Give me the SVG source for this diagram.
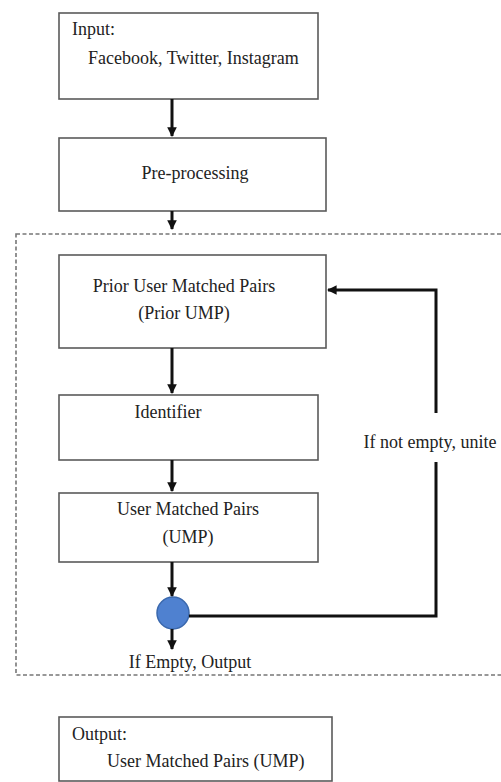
<svg xmlns="http://www.w3.org/2000/svg" width="501" height="782" viewBox="0 0 501 782">
<defs>
<style>
.box{fill:#fff;stroke:#5a5a5a;stroke-width:1.6}
.t{font-family:"Liberation Serif","Times New Roman",serif;font-size:18px;fill:#222}
.c{text-anchor:middle}
.con{fill:none;stroke:#111;stroke-width:3}
.dash{fill:none;stroke:#777;stroke-width:1.6;stroke-dasharray:4 2.5}
</style>
<marker id="ah" viewBox="0 0 10 10" refX="9" refY="5" markerWidth="3.2" markerHeight="3.2" orient="auto" markerUnits="strokeWidth">
<path d="M0,0 L10,5 L0,10 z" fill="#111"/>
</marker>
</defs>
<rect width="501" height="782" fill="#fff"/>
<rect id="loop-frame" class="dash" x="16" y="234" width="500" height="441"/>
<g id="input">
<rect class="box" x="59" y="13" width="259" height="86"/>
<text class="t" x="72" y="35">Input:</text>
<text class="t" x="88" y="64">Facebook, Twitter, Instagram</text>
</g>
<g id="preprocessing">
<rect class="box" x="59" y="138" width="267" height="73"/>
<text class="t c" x="195" y="179">Pre-processing</text>
</g>
<g id="prior-ump">
<rect class="box" x="59" y="255" width="267" height="93"/>
<text class="t c" x="184" y="292">Prior User Matched Pairs</text>
<text class="t c" x="184" y="319">(Prior UMP)</text>
</g>
<g id="identifier">
<rect class="box" x="59" y="395" width="259" height="65"/>
<text class="t c" x="168" y="418">Identifier</text>
</g>
<g id="ump">
<rect class="box" x="59" y="493" width="259" height="69"/>
<text class="t c" x="188" y="515">User Matched Pairs</text>
<text class="t c" x="188" y="543">(UMP)</text>
</g>
<g id="decision">
<circle cx="173" cy="613" r="16" fill="#4f81d0" stroke="#3a68ad" stroke-width="1.5"/>
</g>
<g id="output">
<rect class="box" x="59" y="717" width="273" height="64"/>
<text class="t" x="72" y="740">Output:</text>
<text class="t" x="107" y="767">User Matched Pairs (UMP)</text>
</g>
<g id="connectors">
<line class="con" x1="172" y1="99" x2="172" y2="136" marker-end="url(#ah)"/>
<line class="con" x1="172" y1="211" x2="172" y2="229" marker-end="url(#ah)"/>
<line class="con" x1="172" y1="348" x2="172" y2="393" marker-end="url(#ah)"/>
<line class="con" x1="172" y1="460" x2="172" y2="491" marker-end="url(#ah)"/>
<line class="con" x1="172" y1="562" x2="172" y2="596" marker-end="url(#ah)"/>
<line class="con" x1="172" y1="629" x2="172" y2="649" marker-end="url(#ah)"/>
<path class="con" d="M189,616 H436 V462"/>
<path class="con" d="M436,413 V290 H328" marker-end="url(#ah)"/>
<text class="t c" x="430" y="448">If not empty, unite</text>
<text class="t c" x="190" y="668">If Empty, Output</text>
</g>
</svg>
